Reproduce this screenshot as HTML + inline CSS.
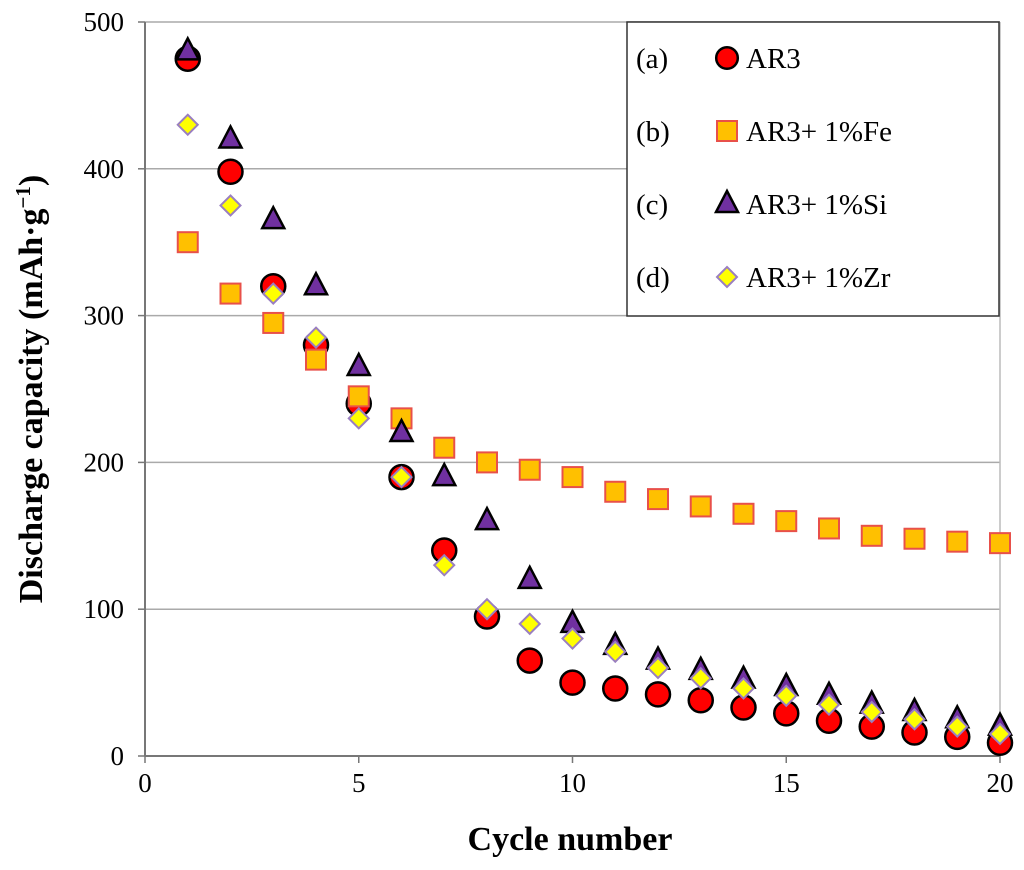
<!DOCTYPE html>
<html><head><meta charset="utf-8"><style>
body{margin:0;background:#fff}
svg{font-family:"Liberation Serif",serif;display:block}
</style></head><body>
<svg id="c" width="1024" height="870" viewBox="0 0 1024 870">
<g id="grid"></g><g id="axes"></g><g id="marks"></g>
<text x="570" y="850" text-anchor="middle" font-size="34" font-weight="bold">Cycle number</text>
<text transform="translate(42,389) rotate(-90)" text-anchor="middle" font-size="34" font-weight="bold">Discharge capacity (mAh·g<tspan baseline-shift="super" font-size="21">−1</tspan>)</text>
<g>
<rect x="627" y="22" width="372" height="294" fill="#fff" stroke="#333" stroke-width="1.5"/>
<g id="leg"></g>
</g>
</svg>
<script>
const cycles=[1,2,3,4,5,6,7,8,9,10,11,12,13,14,15,16,17,18,19,20];
const ar3=[475,398,320,280,240,190,140,95,65,50,46,42,38,33,29,24,20,16,13,9];
const fe=[350,315,295,270,245,230,210,200,195,190,180,175,170,165,160,155,150,148,146,145];
const si=[480,420,365,320,265,220,190,160,120,90,75,65,58,52,47,41,35,30,25,20];
const zr=[430,375,315,285,230,190,130,100,90,80,71,60,53,46,41,35,30,25,20,15];
const xTicks=[0,5,10,15,20];
const yTicks=[0,100,200,300,400,500];
const labels=["(a)","(b)","(c)","(d)"];
const names=["AR3","AR3+ 1%Fe","AR3+ 1%Si","AR3+ 1%Zr"];
const NS="http://www.w3.org/2000/svg";
const X=v=>145+v*(855/20), Y=v=>756-v*(734/500);
function mk(t,a,p){const e=document.createElementNS(NS,t);for(const k in a)e.setAttribute(k,a[k]);p.appendChild(e);return e;}
const grid=document.getElementById('grid'),axes=document.getElementById('axes'),marks=document.getElementById('marks'),leg=document.getElementById('leg');
yTicks.forEach(v=>{
 if(v>0){const l=mk('line',{x1:145,x2:1000,y1:Y(v),y2:Y(v),stroke:'#aaa','stroke-width':1.5},grid);
 
 }
 mk('line',{x1:138,x2:145,y1:Y(v),y2:Y(v),stroke:'#777','stroke-width':1.5},axes);
 const t=mk('text',{x:124,y:Y(v)+9,'text-anchor':'end','font-size':27},axes);t.textContent=v;
 
 
});
xTicks.forEach(v=>{
 mk('line',{x1:X(v),x2:X(v),y1:756,y2:763,stroke:'#777','stroke-width':1.5},axes);
 const t=mk('text',{x:X(v),y:792,'text-anchor':'middle','font-size':27},axes);t.textContent=v;
 
 
});
mk('line',{x1:145,x2:145,y1:22,y2:756,stroke:'#777','stroke-width':2},axes);
mk('line',{x1:145,x2:1000,y1:756,y2:756,stroke:'#777','stroke-width':2},axes);
mk('line',{x1:1000,x2:1000,y1:22,y2:756,stroke:'#bbb','stroke-width':1.5},axes);
function marker(type,cx,cy,p,s){s=s||1;
 if(type==0)return mk('circle',{cx,cy,r:12*s,fill:'#f00',stroke:'#000','stroke-width':2.5},p);
 if(type==1)return mk('rect',{x:cx-10*s,y:cy-10*s,width:20*s,height:20*s,fill:'#ffc000',stroke:'#e8504a','stroke-width':2},p);
 if(type==2)return mk('polygon',{points:`${cx},${cy-13*s} ${cx+11*s},${cy+8*s} ${cx-11*s},${cy+8*s}`,fill:'#7030a0',stroke:'#000','stroke-width':2.5},p);
 return mk('polygon',{points:`${cx},${cy-10*s} ${cx+10*s},${cy} ${cx},${cy+10*s} ${cx-10*s},${cy}`,fill:'#ffff00',stroke:'#9a7fc0','stroke-width':2},p);
}
const series=[ar3,fe,si,zr],sn=['ar3','fe','si','zr'];
series.forEach((arr,si_)=>{arr.forEach((v,i)=>{
 const m=marker(si_,X(cycles[i]),Y(v),marks);
 
 
});});
names.forEach((n,i)=>{
 const y=58+i*73;
 const a=mk('text',{x:636,y:y+10,'font-size':29},leg);a.textContent=labels[i];
 
 
 const m=marker(i,727,y,leg,i==0?0.9:1);
 
 
 const t=mk('text',{x:746,y:y+10,'font-size':29},leg);t.textContent=n;
 
 
});
</script>
</body></html>
